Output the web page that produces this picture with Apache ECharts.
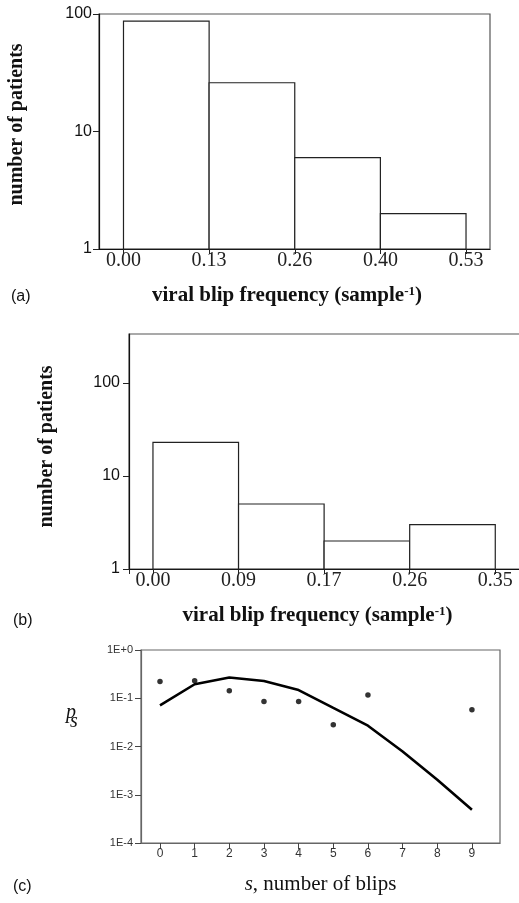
<!DOCTYPE html>
<html><head><meta charset="utf-8">
<script src="https://cdn.jsdelivr.net/npm/echarts@6/dist/echarts.min.js"></script>
<style>html,body{margin:0;padding:0;background:#fff}#c{width:519px;height:903px}</style>
</head><body><div id="c"></div>
<script>
// ---- data ----
const binLabelsA = ['0.00', '0.13', '0.26', '0.40', '0.53'];
const countsA = [87, 26, 6, 2];
const binLabelsB = ['0.00', '0.09', '0.17', '0.26', '0.35'];
const countsB = [23, 5, 2, 3];
const histYTicks = [1, 10, 100];
const blipsObs = [0, 1, 2, 3, 4, 5, 6, 9];
const probObs = [0.223, 0.23, 0.143, 0.086, 0.086, 0.0283, 0.117, 0.058];
const blipsModel = [0, 1, 2, 3, 4, 5, 6, 7, 8, 9];
const probModel = [0.071, 0.195, 0.27, 0.228, 0.148, 0.063, 0.027, 0.0079, 0.00205, 0.00049];
const sTicks = [0, 1, 2, 3, 4, 5, 6, 7, 8, 9];
const yTickLabelsC = ['1E-4', '1E-3', '1E-2', '1E-1', '1E+0'];
const histBase = 1;

// ---- helpers ----
const binIdx = (labels) => labels.map((_, i) => i);
const histData = (counts) => counts.map((c, i) => [i, i + 1, c]);
function histItem(params, api) {
  const top = api.coord([api.value(0), api.value(2)]);
  const bot = api.coord([api.value(1), histBase]);
  return {
    type: 'rect',
    shape: { x: top[0], y: top[1], width: bot[0] - top[0], height: bot[1] - top[1] },
    style: { fill: '#fff', stroke: '#222', lineWidth: 1.2 }
  };
}
const serif = 'Liberation Serif';
const sans = 'Liberation Sans';
const nameRich = {
  t: { fontFamily: serif, fontWeight: 'bold', fontSize: 21, color: '#111' },
  sup: { fontFamily: serif, fontWeight: 'bold', fontSize: 13, color: '#111', verticalAlign: 'top' }
};

function histX(gridIndex, labels, min, max, padRight, extraTicks) {
  return {
    type: 'value', gridIndex, min, max,
    name: '{t|viral blip frequency (sample}{sup|-1}{t|)}',
    nameLocation: 'middle', nameGap: 36,
    nameTextStyle: { rich: nameRich, padding: [0, padRight, 0, 0] },
    axisLine: { show: true, onZero: false, lineStyle: { color: '#111', width: 1.2 } },
    axisTick: { show: true, length: 5, customValues: extraTicks.concat(binIdx(labels)), lineStyle: { color: '#222' } },
    axisLabel: {
      customValues: binIdx(labels), margin: 2,
      formatter: (v) => labels[Math.round(v)],
      fontFamily: serif, fontSize: 20, color: '#222'
    },
    splitLine: { show: false }
  };
}
function histY(gridIndex, max, padLeft, showMax, margin) {
  return {
    type: 'log', logBase: 10, gridIndex, min: 1, max,
    name: 'number of patients',
    nameLocation: 'middle', nameGap: 72,
    nameTextStyle: { fontFamily: serif, fontWeight: 'bold', fontSize: 20, color: '#111', padding: [0, 0, 0, padLeft] },
    axisLine: { show: true, onZero: false, lineStyle: { color: '#111', width: 1.2 } },
    axisTick: { show: true, length: 6, lineStyle: { color: '#222' } },
    axisLabel: { margin, fontFamily: sans, fontSize: 16, color: '#111', showMaxLabel: showMax,
      formatter: (v) => String(histYTicks.find(t => Math.abs(t - v) < 1e-6 * t) ?? '') },
    splitLine: { show: false }
  };
}

const chart = echarts.init(document.getElementById('c'), null, { renderer: 'canvas' });
chart.setOption({
  animation: false,
  backgroundColor: '#fff',
  grid: [
    { left: 99, top: 14, width: 391, height: 235, show: true, borderColor: '#555', borderWidth: 1.2, outerBoundsMode: 'none' },
    { left: 129, top: 334, width: 391, height: 235, show: true, borderColor: '#555', borderWidth: 1.2, outerBoundsMode: 'none' },
    { left: 141, top: 650, width: 359, height: 193, show: true, borderColor: '#666', borderWidth: 1.2, outerBoundsMode: 'none' }
  ],
  xAxis: [
    histX(0, binLabelsA, -0.286, 4.28, 15, []),
    histX(1, binLabelsB, -0.28, 4.289, 14, [-0.28]),
    {
      type: 'value', gridIndex: 2, min: -0.548, max: 9.81,
      name: '{i|s}{t|, number of blips}',
      nameLocation: 'middle', nameGap: 31,
      nameTextStyle: { rich: {
        i: { fontFamily: serif, fontStyle: 'italic', fontSize: 21, color: '#111' },
        t: { fontFamily: serif, fontSize: 21, color: '#111' } } },
      axisLine: { show: true, onZero: false, lineStyle: { color: '#666', width: 1.2 } },
      axisTick: { show: true, length: 6, customValues: sTicks, lineStyle: { color: '#444' } },
      axisLabel: { customValues: sTicks, margin: 5, fontFamily: sans, fontSize: 12, color: '#333' },
      splitLine: { show: false }
    }
  ],
  yAxis: [
    histY(0, 100, 14, true, 7),
    histY(1, 336, 10, false, 9),
    {
      type: 'log', logBase: 10, gridIndex: 2, min: 0.0001, max: 1,
      axisLine: { show: true, onZero: false, lineStyle: { color: '#666', width: 1.2 } },
      axisTick: { show: true, length: 6, lineStyle: { color: '#444' } },
      axisLabel: { margin: 8, fontFamily: sans, fontSize: 11, color: '#333',
        formatter: (v) => yTickLabelsC[Math.round(Math.log10(v)) + 4] },
      splitLine: { show: false }
    }
  ],
  series: [
    { type: 'custom', xAxisIndex: 0, yAxisIndex: 0, renderItem: histItem, data: histData(countsA), encode: { x: [0, 1], y: 2 } },
    { type: 'custom', xAxisIndex: 1, yAxisIndex: 1, renderItem: histItem, data: histData(countsB), encode: { x: [0, 1], y: 2 } },
    { type: 'line', xAxisIndex: 2, yAxisIndex: 2, showSymbol: false, symbol: 'none',
      lineStyle: { color: '#000', width: 2.6 }, data: blipsModel.map((s, i) => [s, probModel[i]]), z: 3 },
    { type: 'scatter', xAxisIndex: 2, yAxisIndex: 2, symbol: 'circle', symbolSize: 5.5,
      itemStyle: { color: '#000' }, data: blipsObs.map((s, i) => [s, probObs[i]]), z: 4 }
  ],
  graphic: [
    { type: 'text', left: 11, top: 289, style: { text: '(a)', font: '16px Liberation Sans', fill: '#111' } },
    { type: 'text', left: 13, top: 613, style: { text: '(b)', font: '16px Liberation Sans', fill: '#111' } },
    { type: 'text', left: 13, top: 879, style: { text: '(c)', font: '16px Liberation Sans', fill: '#111' } },
    { type: 'text', left: 66, top: 703, style: { text: 'p', font: 'italic 20px Liberation Serif', fill: '#111' } },
    { type: 'text', left: 70, top: 712, style: { text: 's', font: 'italic 20px Liberation Serif', fill: '#111' } }
  ]
});
</script>
</body></html>
